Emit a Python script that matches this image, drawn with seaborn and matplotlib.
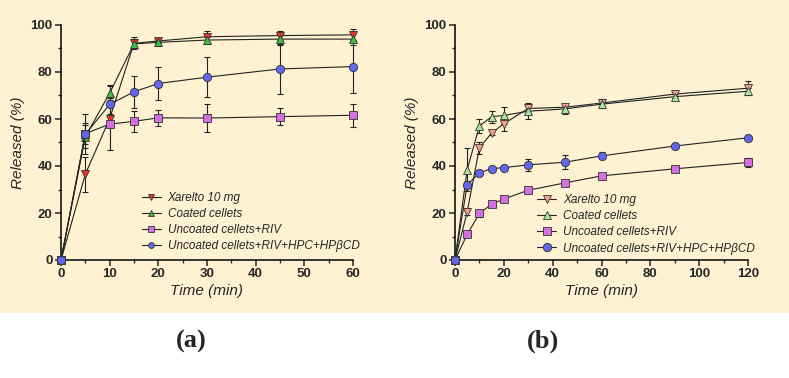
import numpy as np
import pandas as pd
import matplotlib
matplotlib.use('Agg')
import matplotlib.pyplot as plt
from matplotlib.ticker import MultipleLocator
from matplotlib.patches import Rectangle
import seaborn as sns

############################
# data
############################

labels = ['Xarelto 10 mg', 'Coated cellets', 'Uncoated cellets+RIV',
          'Uncoated cellets+RIV+HPC+HP\u03b2CD']

# panel (a)
time_a = [0, 5, 10, 15, 20, 30, 45, 60]
xarelto_a = [0, 36.5, 60.2, 92.2, 93.2, 95.0, 95.5, 95.8]
xarelto_a_err = [0, 7.5, 2.0, 2.5, 1.0, 2.5, 2.0, 2.5]
coated_a = [0, 52.5, 71.0, 92.0, 92.6, 93.6, 94.0, 94.0]
coated_a_err = [0, 5.0, 3.0, 2.0, 1.5, 1.5, 2.5, 2.5]
uncoated_a = [0, 53.8, 57.8, 59.0, 60.5, 60.4, 61.0, 61.6]
uncoated_a_err = [0, 4.5, 11.0, 4.6, 3.5, 6.0, 3.6, 4.8]
hpc_a = [0, 53.5, 66.2, 71.6, 75.1, 77.8, 81.3, 82.3]
hpc_a_err = [0, 8.5, 8.2, 6.8, 7.0, 8.4, 10.5, 11.3]

# panel (b)
time_b = [0, 5, 10, 15, 20, 30, 45, 60, 90, 120]
xarelto_b = [0, 20.5, 47.8, 54.0, 58.0, 64.5, 65.0, 66.8, 70.6, 73.1]
xarelto_b_err = [0, 1.5, 2.5, 1.0, 3.0, 2.0, 1.5, 1.5, 1.5, 3.0]
coated_b = [0, 38.5, 57.0, 61.0, 61.5, 63.3, 64.3, 66.3, 69.5, 71.8]
coated_b_err = [0, 9.0, 3.0, 2.5, 3.5, 3.5, 2.0, 1.5, 1.0, 1.5]
uncoated_b = [0, 10.9, 19.8, 23.8, 25.9, 29.7, 32.8, 35.8, 38.8, 41.5]
uncoated_b_err = [0, 1.0, 1.5, 1.0, 1.0, 1.0, 1.0, 1.0, 1.0, 2.0]
hpc_b = [0, 32.0, 37.1, 38.9, 39.3, 40.5, 41.6, 44.3, 48.5, 52.0]
hpc_b_err = [0, 1.5, 1.0, 0.8, 0.8, 2.5, 3.0, 1.5, 1.0, 0.5]

############################
# styling
############################

sns.set_style('ticks')
plt.rcParams['font.family'] = ['Liberation Sans', 'DejaVu Sans']

cream = '#FEF2D2'
markers = ['v', '^', 's', 'o']
msizes = [5.5, 5.5, 6, 6]
colors_a = ['#E8352C', '#3FBF3F', '#D36FE0', '#6367EC']
colors_b = ['#F5A08E', '#A9E59A', '#D36FE0', '#6367EC']

fig = plt.figure(figsize=(7.89, 3.78), dpi=100)
fig.patch.set_facecolor('white')
fig.patches.append(Rectangle((0, 1 - 313 / 378), 1, 313 / 378, transform=fig.transFigure,
                             facecolor=cream, edgecolor='none', zorder=-10))

ax_a = fig.add_axes([61 / 789, 118 / 378, 292 / 789, 235 / 378])
ax_b = fig.add_axes([455 / 789, 118 / 378, 293 / 789, 235 / 378])


def draw_panel(ax, t, series, errs, colors, xmax, xmajor, xminor, leg_anchor, mscale):
    ax.set_facecolor('none')
    for i in range(4):
        ax.errorbar(t, series[i], yerr=errs[i], fmt='none', ecolor='#222222',
                    elinewidth=0.8, capsize=2.5, capthick=0.8, zorder=2, clip_on=False)
        sns.lineplot(x=t, y=series[i], ax=ax, color='#222222', linewidth=0.8,
                     marker=markers[i], markersize=msizes[i],
                     markerfacecolor=colors[i], markeredgecolor='#333333',
                     markeredgewidth=0.6, label=labels[i], zorder=3, clip_on=False)
    ax.set_xlim(0, xmax)
    ax.set_ylim(0, 100)
    ax.xaxis.set_major_locator(MultipleLocator(xmajor))
    ax.xaxis.set_minor_locator(MultipleLocator(xminor))
    ax.yaxis.set_major_locator(MultipleLocator(20))
    ax.yaxis.set_minor_locator(MultipleLocator(10))
    sns.despine(ax=ax)
    for s in ['left', 'bottom']:
        ax.spines[s].set_linewidth(1.1)
        ax.spines[s].set_color('black')
    ax.tick_params(which='major', length=4, width=1.1, direction='out', pad=2,
                   labelsize=9.5)
    ax.tick_params(which='minor', length=2.5, width=1.0, direction='out')
    for lab in ax.get_xticklabels() + ax.get_yticklabels():
        lab.set_fontweight('bold')
    ax.set_xlabel('Time (min)', fontsize=11, fontstyle='italic', labelpad=3)
    ax.set_ylabel('Released (%)', fontsize=11, fontstyle='italic', labelpad=4)
    ax.legend(loc='upper left', bbox_to_anchor=leg_anchor, frameon=False,
              prop={'size': 8.5, 'style': 'italic'}, handlelength=1.6,
              handletextpad=0.6, labelspacing=0.35, markerscale=mscale,
              borderaxespad=0)


draw_panel(ax_a, time_a, [xarelto_a, coated_a, uncoated_a, hpc_a],
           [xarelto_a_err, coated_a_err, uncoated_a_err, hpc_a_err],
           colors_a, 60, 10, 5, (0.26, 0.31), 0.7)
draw_panel(ax_b, time_b, [xarelto_b, coated_b, uncoated_b, hpc_b],
           [xarelto_b_err, coated_b_err, uncoated_b_err, hpc_b_err],
           colors_b, 120, 20, 10, (0.265, 0.30), 1.0)

fig.text(191 / 789, 1 - 341 / 378, '(a)', ha='center', va='center', fontsize=19,
         fontweight='bold', family='Liberation Serif')
fig.text(543 / 789, 1 - 341 / 378, '(b)', ha='center', va='center', fontsize=19,
         fontweight='bold', family='Liberation Serif')

fig.savefig('out.png', dpi=100, facecolor=fig.get_facecolor())
